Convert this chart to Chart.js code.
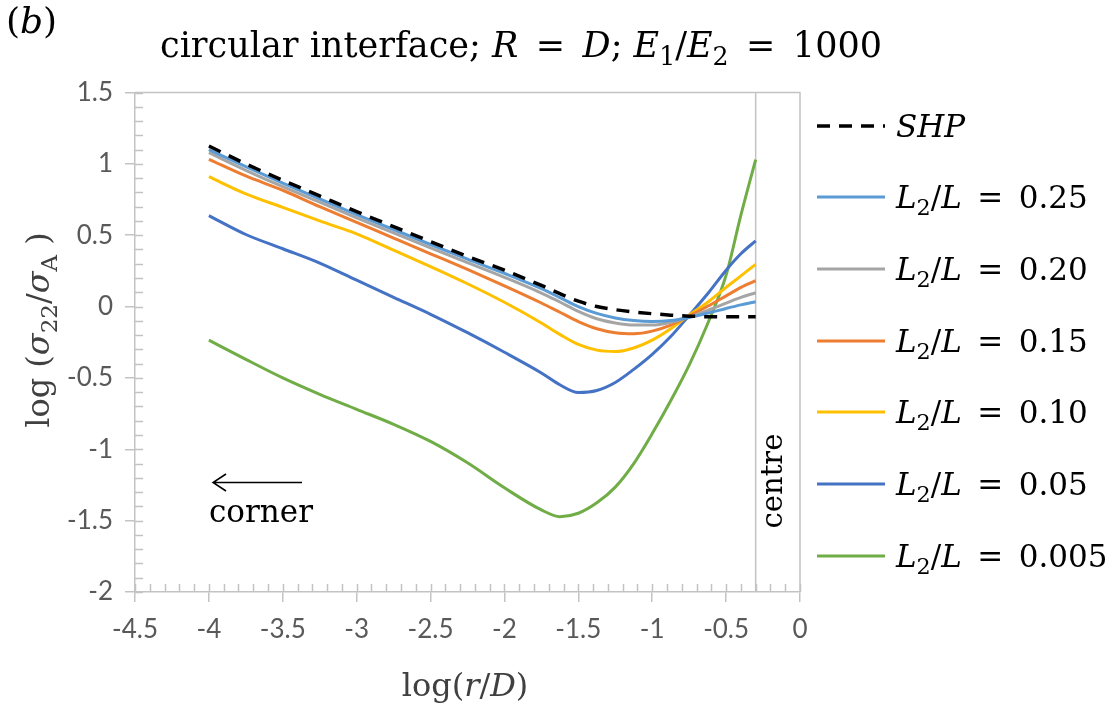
<!DOCTYPE html>
<html>
<head>
<meta charset="utf-8">
<script src="https://cdn.jsdelivr.net/npm/chart.js@4.4.0/dist/chart.umd.min.js"></script>
<style>
  html, body { margin: 0; padding: 0; background: #fff; }
  canvas { display: block; }
</style>
</head>
<body>
<canvas id="sigmaChart" width="1107" height="713"></canvas>
<script>
// log(r/D) positions shared by all curves
const logR = [-4, -3.75, -3.5, -3.25, -3, -2.75, -2.5, -2.25, -2, -1.75, -1.625, -1.5, -1.375, -1.25, -1.125, -1, -0.875, -0.75, -0.625, -0.5, -0.4, -0.3];

// log(sigma22/sigmaA)
const shp    = [1.125, 1.0, 0.885, 0.775, 0.665, 0.56, 0.455, 0.352, 0.255, 0.148, 0.09, 0.038, 0.0, -0.022, -0.038, -0.05, -0.06, -0.067, -0.071, -0.072, -0.072, -0.072];
const l025   = [1.10, 0.98, 0.865, 0.755, 0.645, 0.54, 0.435, 0.332, 0.232, 0.125, 0.063, 0.0, -0.048, -0.08, -0.098, -0.105, -0.098, -0.076, -0.046, -0.013, 0.012, 0.034];
const l020   = [1.078, 0.955, 0.84, 0.732, 0.622, 0.517, 0.412, 0.308, 0.205, 0.095, 0.032, -0.033, -0.085, -0.115, -0.13, -0.13, -0.11, -0.072, -0.026, 0.024, 0.064, 0.097];
const l015   = [1.032, 0.915, 0.815, 0.70, 0.59, 0.48, 0.37, 0.26, 0.145, 0.025, -0.04, -0.105, -0.155, -0.183, -0.19, -0.172, -0.13, -0.066, 0.002, 0.075, 0.134, 0.181];
const l010   = [0.91, 0.79, 0.695, 0.60, 0.51, 0.395, 0.28, 0.16, 0.03, -0.115, -0.195, -0.265, -0.305, -0.315, -0.29, -0.235, -0.155, -0.06, 0.03, 0.135, 0.215, 0.296];
const l005   = [0.637, 0.505, 0.405, 0.305, 0.185, 0.065, -0.054, -0.183, -0.32, -0.465, -0.548, -0.602, -0.588, -0.532, -0.44, -0.335, -0.21, -0.062, 0.09, 0.255, 0.37, 0.461];
const l0005  = [-0.235, -0.37, -0.50, -0.615, -0.72, -0.825, -0.945, -1.095, -1.27, -1.425, -1.472, -1.448, -1.375, -1.265, -1.10, -0.89, -0.66, -0.41, -0.12, 0.22, 0.64, 1.03];

const ratioLabels = ['0.25', '0.20', '0.15', '0.10', '0.05', '0.005'];
const ratioColors = ['#5B9BD5', '#A5A5A5', '#ED7D31', '#FFC000', '#4472C4', '#70AD47'];
const ratioSeries = [l025, l020, l015, l010, l005, l0005];

const xMin = -4.5, xMax = 0, yMin = -2, yMax = 1.5;
const centreX = -0.3;

const SERIF = '"DejaVu Serif", serif';
const AXIS_GREY = '#c3c3c3';
const EQ = '\u2002=\u2002';

const pts = ys => ys.map((y, i) => ({ x: logR[i], y }));

// text with italic / subscript pieces: [text, flags]  flags: 'i' italic, 's' subscript
function drawRich(ctx, parts, x, y, size, align) {
  let w = 0;
  const pieces = parts.map(([t, fl]) => {
    const sub = fl.includes('s');
    const fs = sub ? size * 0.72 : size;
    const font = (fl.includes('i') ? 'italic ' : '') + fs + 'px ' + SERIF;
    ctx.font = font;
    const pw = ctx.measureText(t).width;
    w += pw;
    return { t, font, pw, dy: sub ? size * 0.24 : 0 };
  });
  let cx = align === 'center' ? x - w / 2 : align === 'right' ? x - w : x;
  ctx.textAlign = 'left';
  ctx.textBaseline = 'alphabetic';
  pieces.forEach(p => { ctx.font = p.font; ctx.fillText(p.t, cx, y + p.dy); cx += p.pw; });
  return w;
}

const decor = {
  id: 'decor',
  beforeDatasetsDraw(chart) {
    const { ctx, chartArea: a, scales: { x, y } } = chart;
    ctx.save();
    ctx.strokeStyle = AXIS_GREY;
    ctx.lineWidth = 1.5;
    // top and right frame
    ctx.beginPath();
    ctx.moveTo(a.left, a.top); ctx.lineTo(a.right, a.top); ctx.lineTo(a.right, a.bottom);
    ctx.stroke();
    // inner tick marks, every 0.1
    ctx.beginPath();
    for (let k = 0; k <= 45; k++) {
      const px = Math.round(x.getPixelForValue(xMin + k * 0.1)) + 0.5;
      ctx.moveTo(px, a.bottom); ctx.lineTo(px, a.bottom - 8);
    }
    for (let k = 0; k <= 35; k++) {
      const py = Math.round(y.getPixelForValue(yMin + k * 0.1)) + 0.5;
      ctx.moveTo(a.left, py); ctx.lineTo(a.left + 8, py);
    }
    ctx.stroke();
    ctx.restore();
  },
  afterDraw(chart) {
    const { ctx } = chart;
    ctx.save();
    ctx.fillStyle = '#000';

    drawRich(ctx, [['(', ''], ['b', 'i'], [')', '']], 6, 33, 36, 'left');

    drawRich(ctx, [['circular interface; ', ''], ['R', 'i'], [EQ, ''], ['D', 'i'], ['; ', ''],
      ['E', 'i'], ['1', 's'], ['/', ''], ['E', 'i'], ['2', 's'], [EQ + '1000', '']], 521, 57, 35, 'center');

    ctx.fillStyle = '#404040';
    drawRich(ctx, [['log(', ''], ['r', 'i'], ['/', ''], ['D', 'i'], [')', '']], 465, 696, 32, 'center');

    ctx.save();
    ctx.translate(49, 330);
    ctx.rotate(-Math.PI / 2);
    drawRich(ctx, [['log (', ''], ['σ', 'i'], ['22', 's'], ['/', ''], ['σ', 'i'], ['A', 's'], [' )', '']], 0, 0, 32, 'center');
    ctx.restore();

    // corner arrow + labels
    ctx.fillStyle = '#000';
    ctx.strokeStyle = '#000';
    ctx.lineWidth = 1.5;
    ctx.beginPath();
    ctx.moveTo(302, 482.5); ctx.lineTo(213, 482.5);
    ctx.moveTo(226, 474); ctx.lineTo(213, 482.5); ctx.lineTo(226, 491);
    ctx.stroke();
    drawRich(ctx, [['corner', '']], 209, 522, 31, 'left');

    ctx.save();
    ctx.translate(782, 481);
    ctx.rotate(-Math.PI / 2);
    drawRich(ctx, [['centre', '']], 0, 0, 29, 'center');
    ctx.restore();

    // legend
    const rows = [126, 197, 269, 341, 412, 484, 556];
    chart.data.datasets.forEach((ds, i) => {
      if (i >= rows.length) return;
      const ry = rows[i];
      ctx.save();
      ctx.strokeStyle = ds.borderColor;
      ctx.lineWidth = ds.borderWidth;
      ctx.setLineDash(ds.borderDash || []);
      ctx.beginPath();
      ctx.moveTo(817, ry); ctx.lineTo(885, ry);
      ctx.stroke();
      ctx.restore();
      const parts = i === 0
        ? [['SHP', 'i']]
        : [['L', 'i'], ['2', 's'], ['/', ''], ['L', 'i'], [EQ + ratioLabels[i - 1], '']];
      drawRich(ctx, parts, 896, ry + 11, 31, 'left');
    });
    ctx.restore();
  }
};

const datasets = [{
  label: 'SHP',
  data: pts(shp),
  borderColor: '#000',
  borderWidth: 3.5,
  borderDash: [13, 9]
}];
ratioSeries.forEach((s, i) => datasets.push({
  label: 'L2/L = ' + ratioLabels[i],
  data: pts(s),
  borderColor: ratioColors[i],
  borderWidth: 3
}));
datasets.push({
  label: 'centre',
  data: [{ x: centreX, y: yMin }, { x: centreX, y: yMax }],
  borderColor: AXIS_GREY,
  borderWidth: 1.5,
  cubicInterpolationMode: 'default'
});

const tickText = v => String(Math.round(v * 10) / 10);

new Chart(document.getElementById('sigmaChart').getContext('2d'), {
  type: 'line',
  data: { datasets },
  options: {
    responsive: false,
    animation: false,
    devicePixelRatio: 1,
    elements: {
      point: { radius: 0 },
      line: { cubicInterpolationMode: 'monotone', fill: false }
    },
    layout: { padding: { left: 0, top: 92.5, right: 307, bottom: 0 } },
    plugins: { legend: { display: false }, tooltip: { enabled: false } },
    scales: {
      x: {
        type: 'linear',
        min: xMin, max: xMax,
        ticks: { stepSize: 0.5, callback: tickText, color: '#595959', font: { family: 'Lato', size: 26 }, padding: 12, maxRotation: 0 },
        grid: { drawOnChartArea: false, color: AXIS_GREY, lineWidth: 1.5, tickLength: 10 },
        border: { color: AXIS_GREY, width: 1.5 },
        afterFit: s => { s.height = 121; }
      },
      y: {
        type: 'linear',
        min: yMin, max: yMax,
        ticks: { stepSize: 0.5, callback: tickText, color: '#595959', font: { family: 'Lato', size: 26 }, padding: 12 },
        grid: { drawOnChartArea: false, color: AXIS_GREY, lineWidth: 1.5, tickLength: 10 },
        border: { color: AXIS_GREY, width: 1.5 },
        afterFit: s => { s.width = 135; }
      }
    }
  },
  plugins: [decor]
});
</script>
</body>
</html>
